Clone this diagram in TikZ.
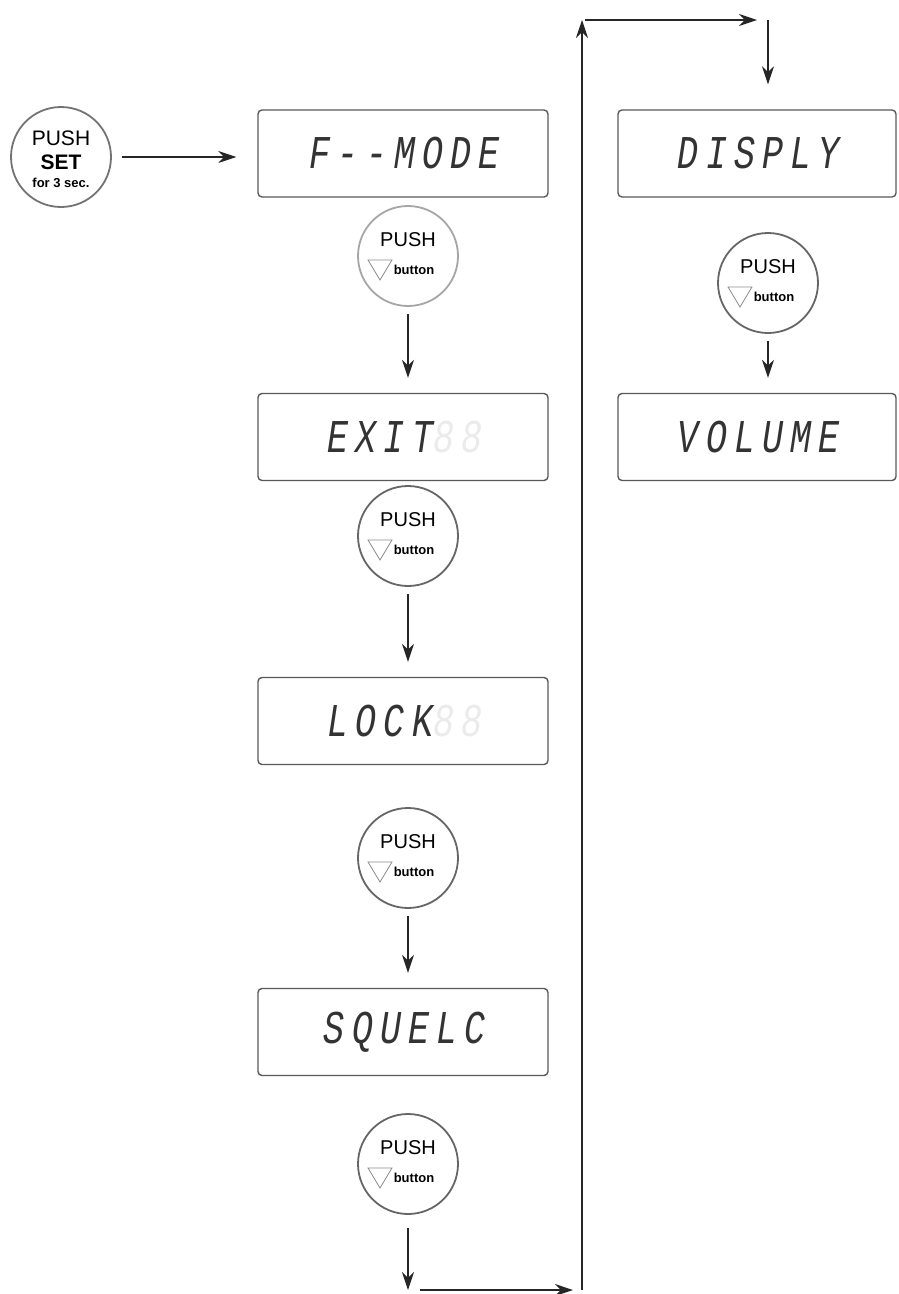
\documentclass[tikz,border=0pt]{standalone}
\usepackage{fontspec}
\setmainfont{Liberation Sans}
\newfontfamily\lcdfont[FakeSlant=0.15,FakeStretch=0.75,LetterSpace=15]{Liberation Mono}
\usepackage{tikz}
\usetikzlibrary{arrows.meta}

\begin{document}
\begin{tikzpicture}[x=1pt,y=-1pt,
  lcd/.style={draw=black!65,line width=1.4pt,rounded corners=4pt,minimum width=290pt,minimum height=87pt,inner sep=0pt,font=\lcdfont\fontsize{47}{47}\selectfont,text=black!80},
  btn/.style={circle,draw=#1,line width=1.8pt,minimum size=100pt,inner sep=0pt},
  flow/.style={line width=1.5pt,draw=black!85,-{Stealth[length=18pt,width=12pt]}}]

\useasboundingbox (0,0) rectangle (898,1294);

% start button
\node[btn=black!55] (pushset) at (61,157) {};
\node[font=\fontsize{21}{21}\selectfont] at (61,138) {PUSH};
\node[font=\bfseries\fontsize{21}{21}\selectfont] at (61,162) {SET};
\node[font=\bfseries\fontsize{13}{13}\selectfont] at (61,183) {for 3 sec.};

% displays
\node[lcd] (fmode) at (403,153.5) {F-{}-MODE};
\node[lcd] (exit) at (403,437) {EXIT\textcolor{black!8}{88}};
\node[lcd] (lock) at (403,721) {LOCK\textcolor{black!8}{88}};
\node[lcd] (squelc) at (403,1032) {SQUELC};
\node[lcd,minimum width=278pt] (disply) at (757,153.5) {DISPLY};
\node[lcd,minimum width=278pt] (volume) at (757,437) {VOLUME};

% push buttons
\foreach \n/\x/\y/\c in {c1/408/256/black!35,c2/408/536/black!60,c3/408/858/black!60,c4/408/1164/black!60,c5/768/283/black!60}{
  \node[btn=\c] (\n) at (\x,\y) {};
  \node[font=\fontsize{20}{20}\selectfont] at (\x,\y-16) {PUSH};
  \node[font=\bfseries\fontsize{13}{13}\selectfont] at (\x+6,\y+14) {button};
  \draw[black!45,line width=0.8pt] (\x-40,\y+4) -- (\x-16,\y+4) -- (\x-28,\y+24) -- cycle;
}

\coordinate (b1) at (408,1290);
\coordinate (b2) at (582,1290);
\coordinate (t1) at (582,20);
\coordinate (t2) at (768,20);

\draw[flow,shorten <=10pt,shorten >=21pt] (pushset.east) -- (pushset.east -| fmode.west);
\draw[flow,shorten <=7pt,shorten >=15pt] (c1.south) -- (c1.south |- exit.north);
\draw[flow,shorten <=7pt,shorten >=15pt] (c2.south) -- (c2.south |- lock.north);
\draw[flow,shorten <=7pt,shorten >=15pt] (c3.south) -- (c3.south |- squelc.north);
\draw[flow,shorten <=13pt] (c4.south) -- (b1);
\draw[flow,shorten <=12pt,shorten >=9pt] (b1) -- (b2);
\draw[flow] (b2) -- (t1);
\draw[flow,shorten <=3pt,shorten >=11pt] (t1) -- (t2);
\draw[flow,shorten >=25pt] (t2) -- (t2 |- disply.north);
\draw[flow,shorten <=7pt,shorten >=15pt] (c5.south) -- (c5.south |- volume.north);

\end{tikzpicture}
\end{document}
